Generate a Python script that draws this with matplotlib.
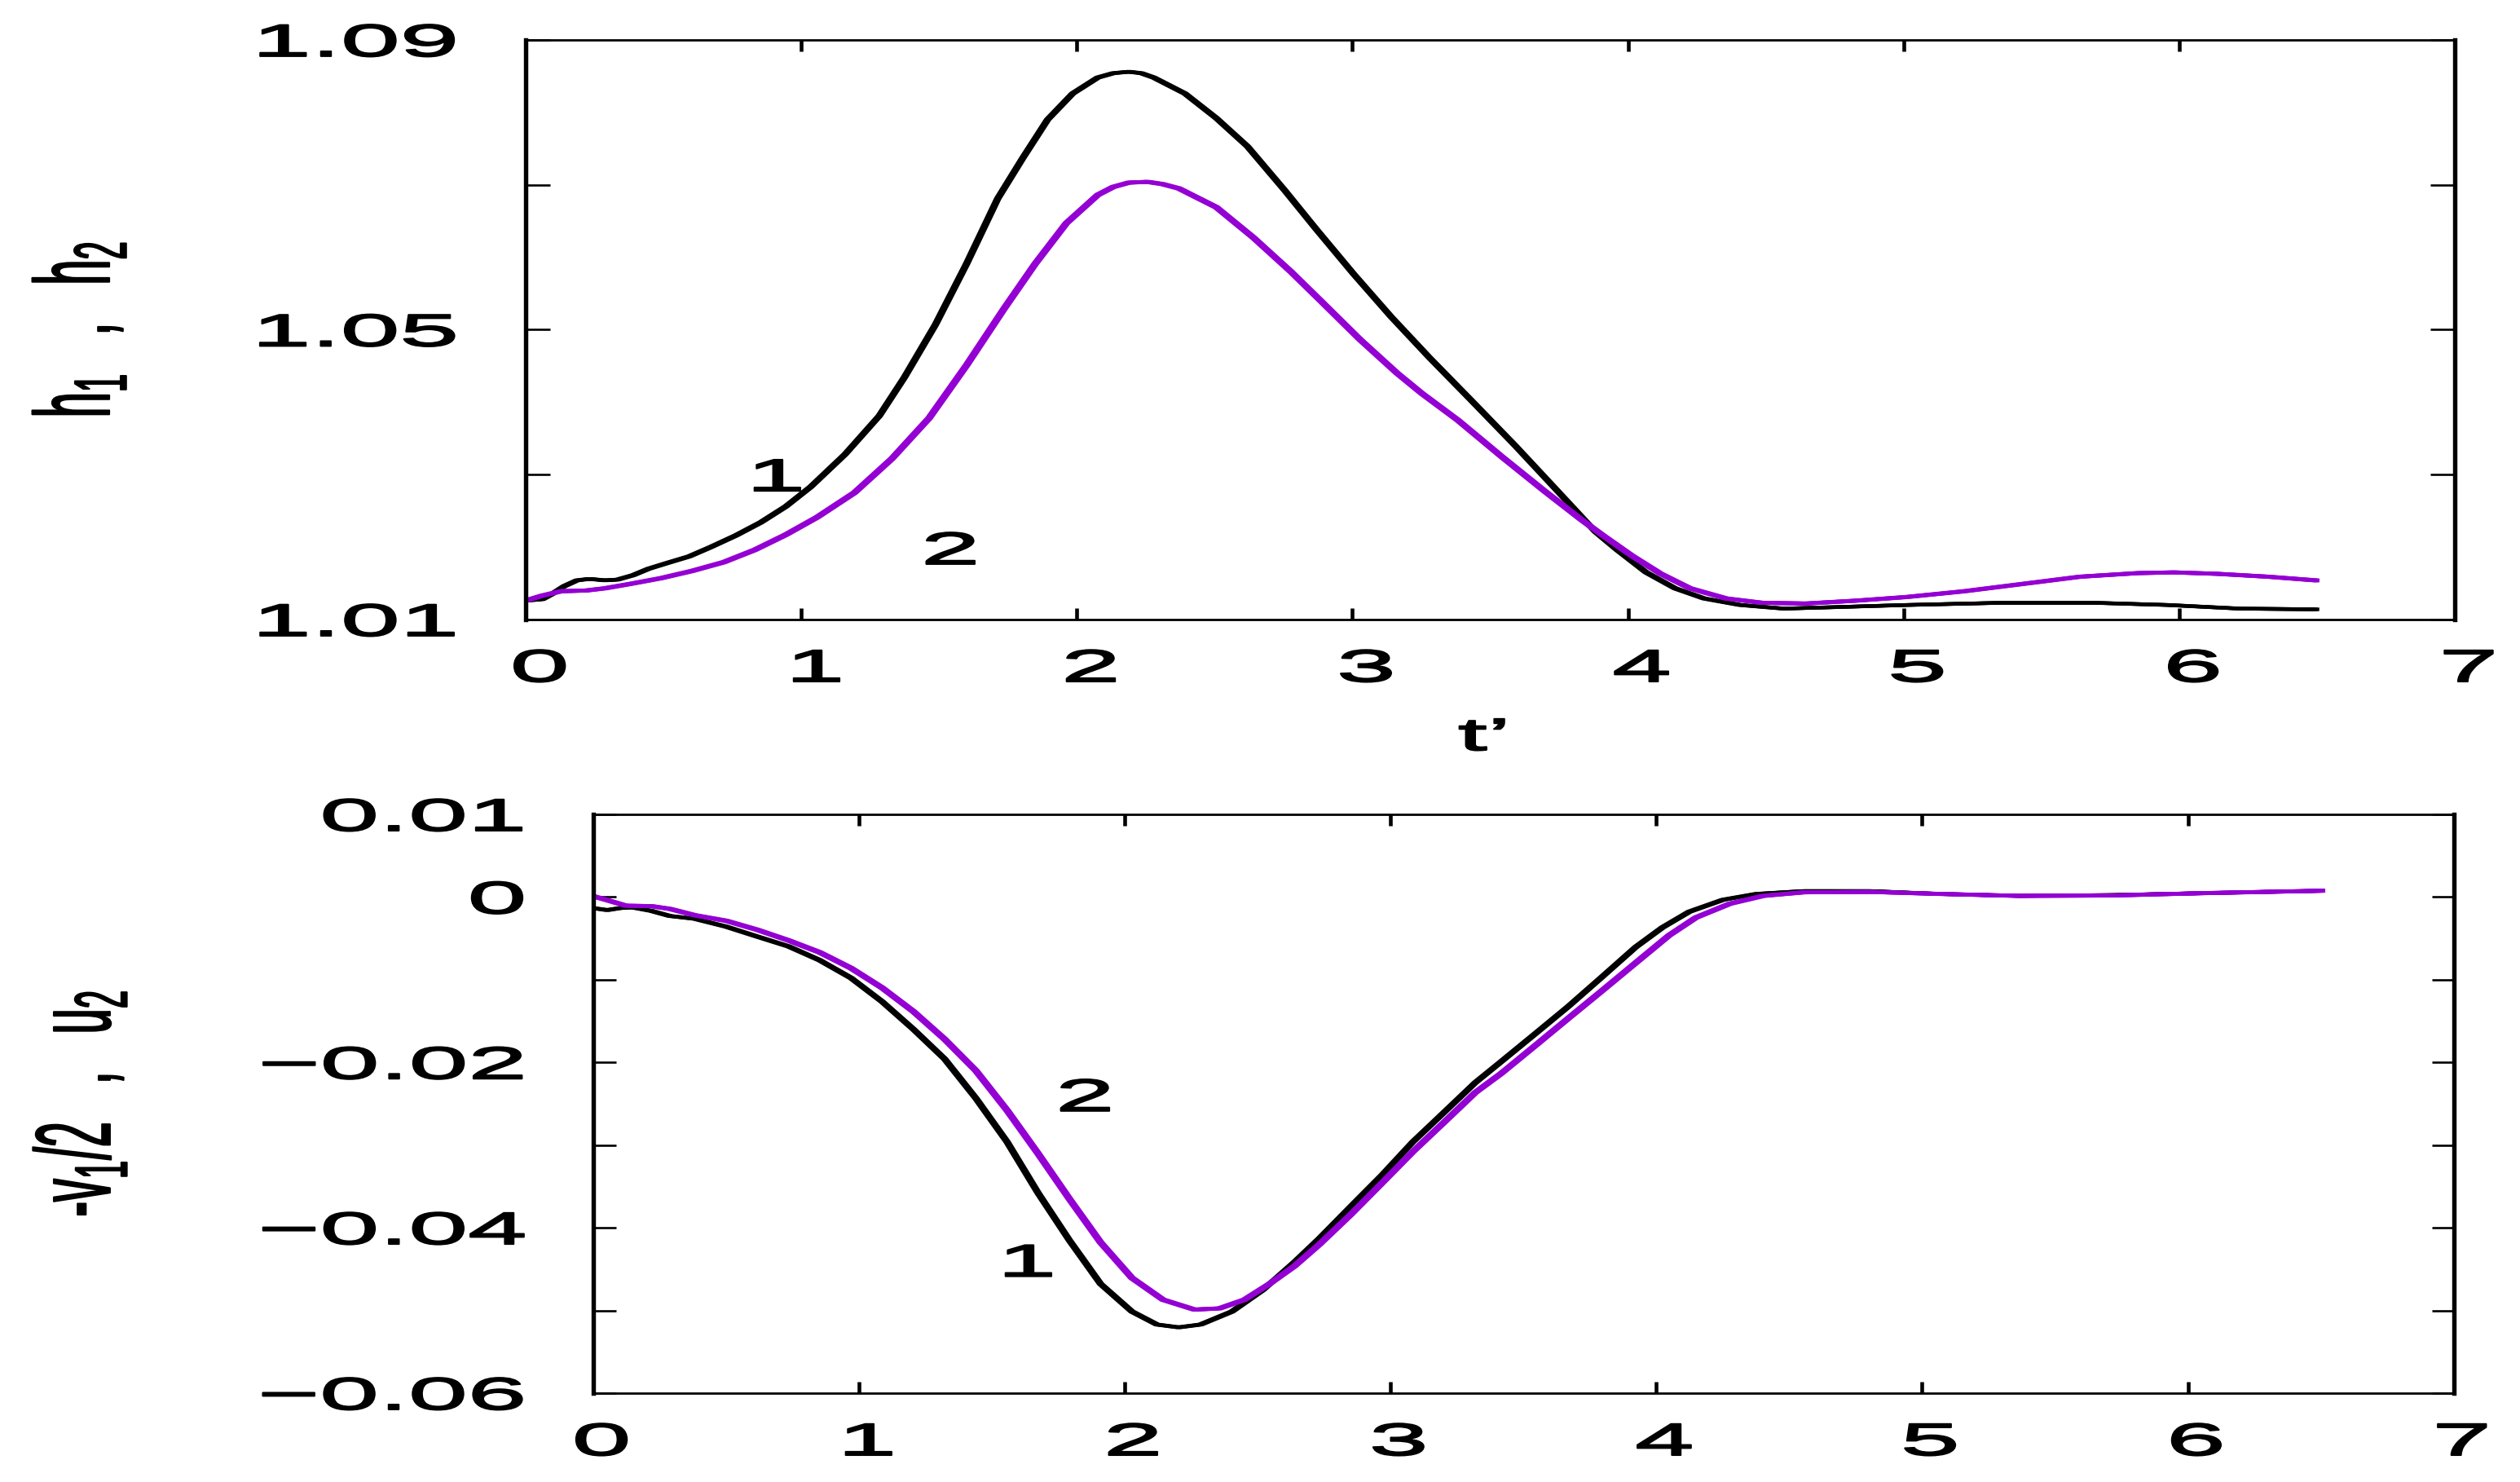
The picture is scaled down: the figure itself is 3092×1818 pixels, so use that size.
import matplotlib
matplotlib.use('Agg')
import matplotlib.pyplot as plt
import matplotlib.patheffects as pe
from matplotlib.transforms import Affine2D

# top panel: h1 (curve 1, black) and h2 (curve 2, violet)
t_h1 = [0, 0.061, 0.095, 0.140, 0.186, 0.231, 0.287, 0.333, 0.389, 0.446, 0.514, 0.593,
        0.672, 0.763, 0.853, 0.944, 1.034, 1.159, 1.283, 1.374, 1.487, 1.600, 1.713, 1.804,
        1.894, 1.985, 2.076, 2.132, 2.189, 2.234, 2.279, 2.392, 2.506, 2.619, 2.755, 2.868,
        3.004, 3.140, 3.278, 3.435, 3.593, 3.750, 3.882, 3.961, 4.066, 4.171, 4.276, 4.407,
        4.565, 4.748, 5.011, 5.352, 5.694, 5.958, 6.220, 6.495]
h1 = [1.0126, 1.0128, 1.0135, 1.0146, 1.0154, 1.0156, 1.0154, 1.0155, 1.0161, 1.0170, 1.0178,
      1.0187, 1.0200, 1.0216, 1.0234, 1.0256, 1.0283, 1.0328, 1.0381, 1.0434, 1.0507, 1.0591,
      1.0681, 1.0737, 1.0790, 1.0826, 1.0848, 1.0854, 1.0856, 1.0854, 1.0848, 1.0826, 1.0792,
      1.0753, 1.0692, 1.0639, 1.0577, 1.0518, 1.0462, 1.0401, 1.0339, 1.0275, 1.0221, 1.0196,
      1.0165, 1.0143, 1.0129, 1.0120, 1.0115, 1.0117, 1.0120, 1.0123, 1.0123, 1.0120, 1.0115,
      1.0114]

t_h2 = [0, 0.061, 0.129, 0.220, 0.287, 0.378, 0.491, 0.604, 0.718, 0.831, 0.944, 1.057,
        1.193, 1.329, 1.464, 1.600, 1.736, 1.849, 1.962, 2.076, 2.132, 2.189, 2.257, 2.310,
        2.370, 2.506, 2.641, 2.777, 2.890, 3.026, 3.162, 3.252, 3.383, 3.541, 3.698, 3.830,
        3.909, 4.014, 4.119, 4.225, 4.356, 4.487, 4.645, 4.829, 5.011, 5.221, 5.431, 5.640,
        5.850, 5.982, 6.139, 6.323, 6.495]
h2 = [1.0126, 1.0133, 1.0139, 1.0140, 1.0143, 1.0149, 1.0157, 1.0167, 1.0179, 1.0196, 1.0217,
      1.0241, 1.0275, 1.0322, 1.0378, 1.0451, 1.0529, 1.0591, 1.0647, 1.0686, 1.0697, 1.0703,
      1.0704, 1.0701, 1.0695, 1.0669, 1.0627, 1.0580, 1.0538, 1.0487, 1.0440, 1.0412, 1.0375,
      1.0325, 1.0277, 1.0238, 1.0216, 1.0188, 1.0163, 1.0143, 1.0129, 1.0123, 1.0122, 1.0126,
      1.0131, 1.0139, 1.0149, 1.0159, 1.0164, 1.0165, 1.0163, 1.0159, 1.0154]

# bottom panel: -v1/2 (curve 1, black) and u2 (curve 2, violet)
t_v1 = [0, 0.053, 0.100, 0.147, 0.218, 0.288, 0.382, 0.500, 0.617, 0.735, 0.852, 0.970,
        1.087, 1.205, 1.322, 1.440, 1.557, 1.674, 1.792, 1.909, 2.027, 2.121, 2.203, 2.285,
        2.403, 2.520, 2.638, 2.732, 2.849, 2.967, 3.084, 3.202, 3.319, 3.416, 3.543, 3.669,
        3.796, 3.922, 4.023, 4.124, 4.251, 4.377, 4.554, 4.807, 5.061, 5.364, 5.718, 6.072, 6.502]
v1 = [-0.00134, -0.00158, -0.00134, -0.00125, -0.00167, -0.00229, -0.00263, -0.00358, -0.00478,
      -0.00597, -0.00764, -0.00979, -0.01265, -0.01600, -0.01958, -0.02435, -0.02961, -0.03581,
      -0.04154, -0.04680, -0.05014, -0.05171, -0.05205, -0.05171, -0.05014, -0.04751, -0.04417,
      -0.04130, -0.03748, -0.03366, -0.02961, -0.02602, -0.02244, -0.01991, -0.01657, -0.01323,
      -0.00965, -0.00606, -0.00368, -0.00177, -0.00033, 0.00038, 0.00072, 0.00072, 0.00038,
      0.00014, 0.00024, 0.00048, 0.00076]

t_u2 = [0, 0.053, 0.123, 0.218, 0.288, 0.382, 0.500, 0.617, 0.735, 0.852, 0.970, 1.087,
        1.205, 1.322, 1.440, 1.557, 1.674, 1.792, 1.909, 2.027, 2.144, 2.262, 2.356, 2.450,
        2.544, 2.638, 2.732, 2.849, 2.967, 3.084, 3.202, 3.319, 3.416, 3.543, 3.669, 3.796,
        3.922, 4.048, 4.149, 4.276, 4.402, 4.554, 4.807, 5.061, 5.364, 5.718, 6.072, 6.502]
u2 = [0.0001, -0.00038, -0.00105, -0.00110, -0.00143, -0.00220, -0.00287, -0.00396, -0.00525,
      -0.00669, -0.00860, -0.01098, -0.01385, -0.01719, -0.02101, -0.02579, -0.03104, -0.03653,
      -0.04178, -0.04608, -0.04871, -0.04990, -0.04976, -0.04871, -0.04680, -0.04465, -0.04202,
      -0.03844, -0.03462, -0.03080, -0.02722, -0.02364, -0.02134, -0.01800, -0.01466, -0.01132,
      -0.00797, -0.00463, -0.00248, -0.00081, 0.00014, 0.00057, 0.00062, 0.00038, 0.00014,
      0.00019, 0.00048, 0.00076]

x_ticks = [0, 1, 2, 3, 4, 5, 6, 7]
x_tick_labels = ['0', '1', '2', '3', '4', '5', '6', '7']
h_ticks = [1.01, 1.03, 1.05, 1.07, 1.09]
h_tick_labels = ['1.01', '', '1.05', '', '1.09']
v_ticks = [0.01, 0, -0.01, -0.02, -0.03, -0.04, -0.05, -0.06]
v_tick_labels = ['0.01', '0', '', '\u22120.02', '', '\u22120.04', '', '\u22120.06']

plt.rcParams['font.family'] = ['Liberation Sans', 'DejaVu Sans']
plt.rcParams['font.size'] = 40
plt.rcParams['mathtext.fontset'] = 'custom'
plt.rcParams['mathtext.rm'] = 'Liberation Sans'
plt.rcParams['mathtext.it'] = 'Liberation Sans'
plt.rcParams['mathtext.bf'] = 'Liberation Sans:bold'

STRETCH = 2.35
INK = 1.45  # extra outline on glyphs, pt
VIOLET = '#9400d3'


class Widen(pe.AbstractPathEffect):
    # the original output is squeezed sideways: stretch glyphs in screen x
    def __init__(self, text, sx=STRETCH, dx=0.0):
        super().__init__()
        self.text, self.sx, self.dx = text, sx, dx

    def draw_path(self, renderer, gc, tpath, affine, rgbFace=None):
        bb = self.text.get_window_extent(renderer)
        ha = self.text.get_horizontalalignment()
        if ha == 'right':
            px = bb.x1
        elif ha == 'left':
            px = bb.x0
        else:
            px = (bb.x0 + bb.x1) / 2
        tr = affine + Affine2D().translate(-px, 0).scale(self.sx, 1).translate(px + self.dx, 0)
        gc0 = renderer.new_gc()
        gc0.copy_properties(gc)
        gc0.set_linewidth(INK)
        gc0.set_foreground(rgbFace)
        gc0.set_joinstyle('round')
        renderer.draw_path(gc0, tpath, tr, rgbFace)
        gc0.restore()


def widen(t, dx=0.0):
    t.set_path_effects([Widen(t, dx=dx)])


# pen drawn wider sideways than up/down
pen = [pe.Stroke(offset=(-1.7, 0)), pe.Stroke(offset=(1.7, 0)), pe.Normal()]

fig = plt.figure(figsize=(30.92, 18.18), dpi=100)
ax1 = fig.add_axes([0.2086, 0.5820, 0.7655, 0.3911])
ax2 = fig.add_axes([0.2354, 0.0600, 0.7383, 0.3905])


def style(ax, ylen):
    ax.tick_params(axis='x', direction='in', top=True, bottom=True, length=10, width=3.3, pad=26)
    ax.tick_params(axis='y', direction='in', left=True, right=True, length=ylen, width=1.9, pad=59)
    for s in ['left', 'right']:
        ax.spines[s].set_linewidth(3.9)
    for s in ['top', 'bottom']:
        ax.spines[s].set_linewidth(2.0)


ax1.plot(t_h1, h1, color='black', lw=3.2, path_effects=pen, solid_joinstyle='round')
ax1.plot(t_h2, h2, color=VIOLET, lw=3.5, path_effects=pen, solid_joinstyle='round')
ax1.set_xlim(0, 7)
ax1.set_ylim(1.01, 1.09)
ax1.set_xticks(x_ticks, x_tick_labels)
ax1.set_yticks(h_ticks, h_tick_labels)
style(ax1, 21.6)
ax1.set_xlabel('t\u2019')
ax1.xaxis.set_label_coords(0.497, -0.169)
ax1.set_ylabel('h$_1$   ,   h$_2$', va='center')
ax1.yaxis.set_label_coords(-0.2298, 0.5)
a1 = ax1.text(0.908, 1.030, '1', ha='center', va='center_baseline')
a2 = ax1.text(1.541, 1.0199, '2', ha='center', va='center_baseline')

ax2.plot(t_v1, v1, color='black', lw=3.2, path_effects=pen, solid_joinstyle='round')
ax2.plot(t_u2, u2, color=VIOLET, lw=3.5, path_effects=pen, solid_joinstyle='round')
ax2.set_xlim(0, 7)
ax2.set_ylim(-0.06, 0.01)
ax2.set_xticks(x_ticks, x_tick_labels)
ax2.set_yticks(v_ticks, v_tick_labels)
style(ax2, 19.8)
ax2.set_ylabel('-v$_1$/2   ,   u$_2$', va='center')
ax2.yaxis.set_label_coords(-0.2742, 0.5)
b2 = ax2.text(1.85, -0.0239, '2', ha='center', va='center_baseline')
b1 = ax2.text(1.632, -0.0439, '1', ha='center', va='center_baseline')

for lab in ax1.get_xticklabels():
    widen(lab, dx=17)
for lab in ax2.get_xticklabels():
    widen(lab, dx=10)
for ax in [ax1, ax2]:
    for lab in ax.get_yticklabels():
        widen(lab)
    widen(ax.yaxis.label)
widen(ax1.xaxis.label)
for t in [a1, a2, b1, b2]:
    widen(t)

fig.savefig('out.png', dpi=100)
